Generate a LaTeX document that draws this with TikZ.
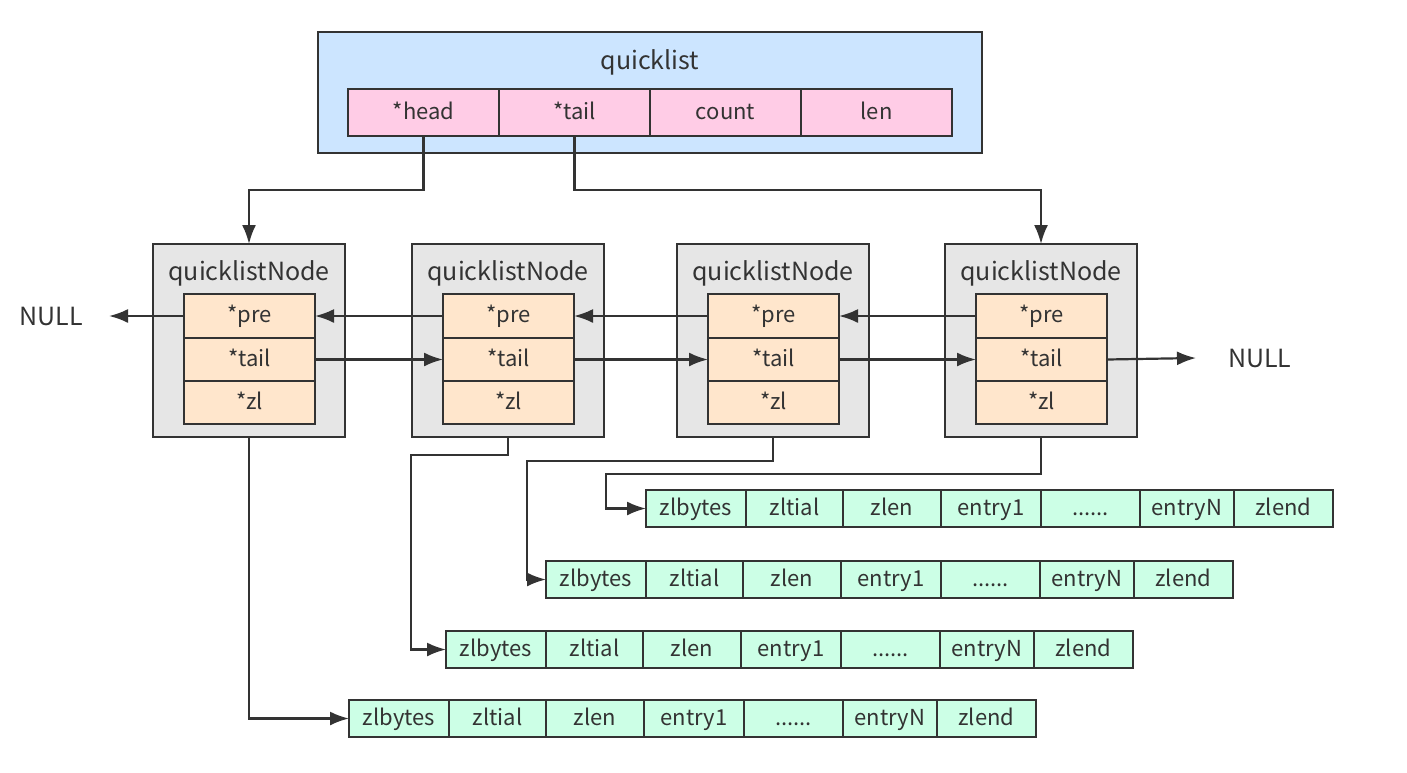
\documentclass[tikz,border=0pt]{standalone}
\usepackage{fontspec}
\setmainfont{Noto Sans CJK SC}
\usetikzlibrary{arrows.meta,calc}
\definecolor{qlblue}{HTML}{CCE5FF}
\definecolor{qlpink}{HTML}{FFCCE6}
\definecolor{qlgray}{HTML}{E6E6E6}
\definecolor{qlorange}{HTML}{FFE6CC}
\definecolor{qlmint}{HTML}{CCFFE6}
\definecolor{qlline}{HTML}{333333}
\definecolor{qltext}{HTML}{333333}
\begin{document}
\begin{tikzpicture}[x=1pt,y=-1pt,
  box/.style={draw=qlline, line width=2.2pt, anchor=north west, inner sep=0pt, outer sep=0pt},
  cell/.style={draw=qlline, line width=2pt, anchor=north west, inner sep=0pt, outer sep=0pt,
    text=qltext, font=\fontsize{22}{26}\selectfont, text height=17pt, text depth=4pt},
  zcell/.style={cell, fill=qlmint, minimum height=37pt, font=\fontsize{22}{26}\selectfont},
  title/.style={text=qltext, font=\fontsize{25}{30}\selectfont, inner sep=0pt},
  arr/.style={draw=qlline, line width=2.2pt, -{Latex[length=19pt,width=14pt]}},
]
\useasboundingbox[fill=white] (0,0) rectangle (1407,772);

% quicklist
\node[box, fill=qlblue, minimum width=664pt, minimum height=121pt] (ql) at (318,32) {};
\node[title] (qltitle) at (650,62) {quicklist};
\node[cell, fill=qlpink, minimum width=151pt, minimum height=47pt] (qhead) at (348,89) {*head};
\node[cell, fill=qlpink, minimum width=151pt, minimum height=47pt] (qtail) at (499,89) {*tail};
\node[cell, fill=qlpink, minimum width=151pt, minimum height=47pt] (qcount) at (650,89) {count};
\node[cell, fill=qlpink, minimum width=151pt, minimum height=47pt] (qlen) at (801,89) {len};

% quicklist nodes
\foreach \k/\x in {1/153, 2/412, 3/677, 4/945}{
  \node[box, fill=qlgray, minimum width=192pt, minimum height=193pt] (n\k) at (\x,244) {};
  \node[title] (n\k title) at (\x+96,273) {quicklistNode};
  \node[cell, fill=qlorange, minimum width=131pt, minimum height=44pt] (n\k pre) at (\x+31,294) {*pre};
  \node[cell, fill=qlorange, minimum width=131pt, minimum height=43pt] (n\k tail) at (\x+31,338) {*tail};
  \node[cell, fill=qlorange, minimum width=131pt, minimum height=43pt] (n\k zl) at (\x+31,381) {*zl};
}

% ziplists
\foreach \r/\x/\y in {A/646/490, B/546/561, C/446/631, D/349/700}{
  \foreach \i/\o/\w/\t in {1/0/100/zlbytes, 2/100/97/zltial, 3/197/98/zlen, 4/295/100/entry1,
                           5/395/99/{......}, 6/494/94/entryN, 7/588/99/zlend}{
    \node[zcell, minimum width=\w pt] (z\r\i) at (\x+\o,\y) {\t};
  }
}

% NULL labels
\node[title, anchor=east] (nullL) at (83,316) {NULL};
\node[title, anchor=west] (nullR) at (1228,358) {NULL};

% head / tail pointers
\draw[arr] (qhead.south) -- ++(0,54) -| (n1.north);
\draw[arr] (qtail.south) -- ++(0,54) -| (n4.north);

% pre pointers
\draw[arr] (n1pre.west) -- ([xshift=26pt]nullL.east);
\draw[arr] (n2pre.west) -- (n1pre.east);
\draw[arr] (n3pre.west) -- (n2pre.east);
\draw[arr] (n4pre.west) -- (n3pre.east);

% tail pointers
\draw[arr] (n1tail.east) -- (n2tail.west);
\draw[arr] (n2tail.east) -- (n3tail.west);
\draw[arr] (n3tail.east) -- (n4tail.west);
\draw[arr] (n4tail.east) -- ([xshift=-32pt]nullR.west);

% zl pointers
\draw[arr] (n1.south) |- (zD1.west);
\draw[arr] (n2.south) -- ++(0,18) -| ([xshift=-35pt]zC1.west) -- (zC1.west);
\draw[arr] (n3.south) -- ++(0,24) -| ([xshift=-19pt]zB1.west) -- (zB1.west);
\draw[arr] (n4.south) -- ++(0,37) -| ([xshift=-40pt]zA1.west) -- (zA1.west);
\end{tikzpicture}
\end{document}
